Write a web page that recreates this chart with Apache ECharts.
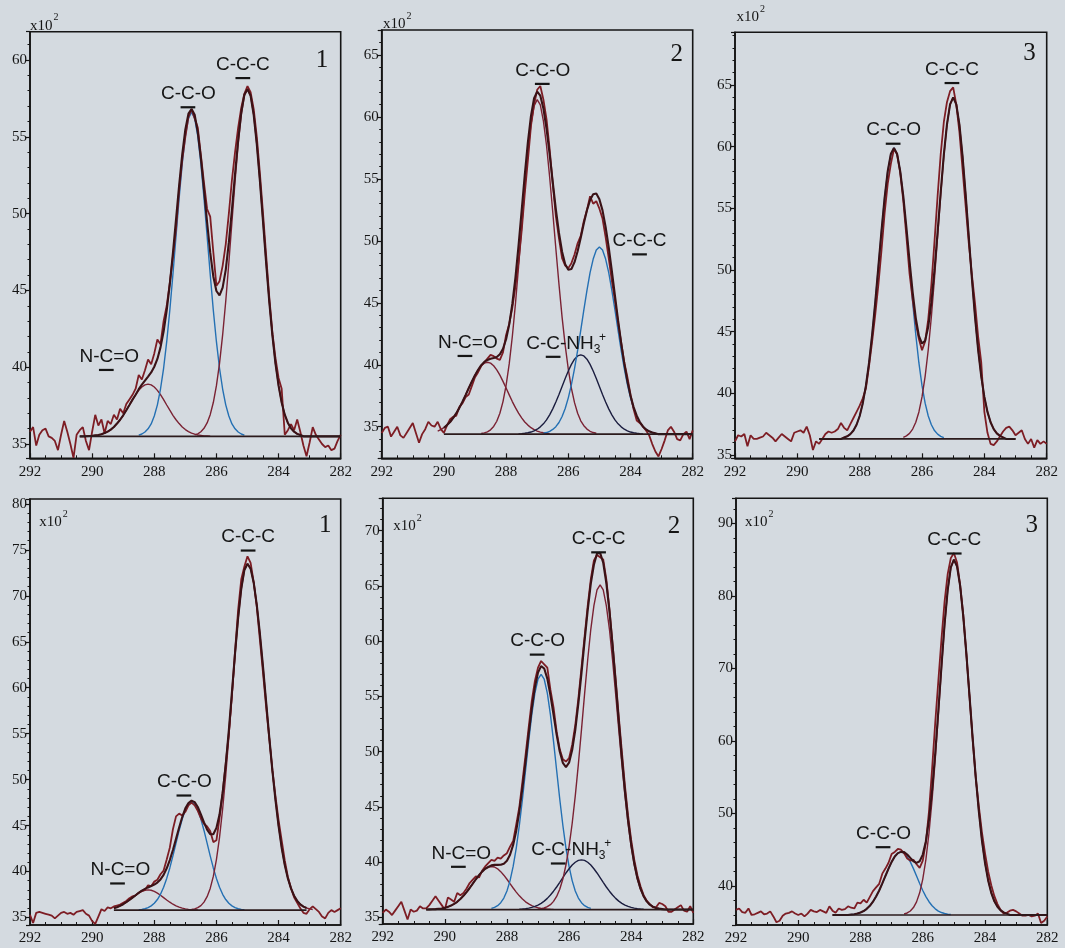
<!DOCTYPE html>
<html>
<head>
<meta charset="utf-8">
<title>C 1s spectra</title>
<script src="https://cdn.jsdelivr.net/npm/echarts@6/dist/echarts.min.js"></script>
<style>
  html, body { margin: 0; padding: 0; background: #d4dae0; }
  #chart { width: 1065px; height: 948px; }
</style>
</head>
<body>
<div id="chart"></div>
<script>
// ---- Energy grid: binding energy (eV), measured points every 0.1 eV from 292 down to 282 ----
const RAW_START = 292.0;
const STEP = 0.1;

// ---- Measured spectra (counts, x10^2) ----
const rawTL = [
  35.8,36.1,34.9,35.6,35.9,36.0,35.5,35.4,35.2,34.6,
  35.6,36.5,35.8,35.0,34.1,35.6,35.9,36.1,35.2,34.6,
  35.8,36.9,36.2,36.6,35.7,36.5,36.3,36.9,36.6,37.3,
  37.0,37.6,37.9,38.2,38.6,39.5,39.2,39.8,40.5,40.2,
  40.9,41.8,41.5,43.0,44.0,45.5,47.2,49.0,51.5,53.5,
  55.0,56.3,56.8,56.2,55.6,53.8,52.0,50.3,49.8,47.5,
  45.3,45.6,46.6,48.0,50.0,52.2,54.0,55.6,56.9,57.8,
  58.3,57.9,56.8,55.0,52.6,50.0,47.3,44.6,42.3,40.6,
  39.3,38.6,35.6,35.9,36.3,35.9,36.6,35.8,34.9,34.2,
  35.1,36.1,35.6,35.3,35.0,34.8,34.9,34.6,34.7,35.2,
  35.6
];
const rawTC = [
  34.5,34.9,35.0,34.2,34.6,35.0,34.3,34.1,34.5,34.9,
  35.3,34.5,33.7,34.4,34.8,35.4,35.1,35.0,35.4,34.8,
  34.5,35.1,35.6,35.8,35.9,36.6,36.9,37.4,37.6,38.3,
  39.0,39.4,39.9,40.2,40.5,40.8,40.7,40.5,40.4,41.0,
  42.4,43.3,44.6,46.3,48.3,50.8,53.8,56.5,59.3,61.0,
  62.2,62.5,61.4,59.8,57.4,54.6,52.0,50.2,48.6,48.0,
  47.8,48.2,48.9,49.8,50.4,51.6,52.5,53.6,53.0,53.2,
  52.6,51.8,50.3,48.6,46.8,45.2,43.4,41.8,40.2,39.0,
  37.6,36.4,35.5,35.3,35.0,34.7,34.3,33.6,33.0,32.6,
  33.2,33.9,34.7,35.0,34.6,34.0,33.9,34.4,34.6,34.0,
  34.7
];
const rawTR = [
  36.1,36.6,36.5,36.7,35.7,36.6,36.3,36.3,36.4,36.5,
  36.8,36.6,36.4,36.1,36.4,36.7,36.5,36.3,36.1,36.8,
  36.9,37.0,36.8,37.3,36.6,35.4,36.1,35.9,36.3,36.7,
  36.9,36.8,36.9,37.1,37.6,37.2,37.0,37.5,38.0,38.5,
  39.0,39.6,40.4,42.2,44.2,46.4,48.8,51.6,54.6,57.0,
  58.6,59.8,59.4,57.9,55.6,52.7,49.7,47.6,45.7,44.4,
  43.5,44.2,46.0,48.8,52.3,56.0,59.4,62.0,63.6,64.5,
  64.8,63.4,61.2,58.2,55.2,52.2,49.6,47.3,44.6,42.5,
  38.5,36.8,35.9,35.8,36.1,36.5,36.9,37.2,37.3,37.0,
  36.6,36.8,37.0,36.3,35.9,36.3,35.6,36.2,35.9,36.1,
  35.9
];
const rawBL = [
  35.3,34.4,35.5,35.6,35.5,35.4,35.3,35.2,34.9,35.2,
  35.5,35.6,35.4,35.5,35.3,35.6,35.7,35.8,35.4,35.2,
  34.6,34.3,35.1,35.9,35.7,36.1,36.0,36.2,36.3,36.4,
  36.6,36.8,37.1,37.3,37.4,37.7,37.9,38.0,38.5,38.4,
  38.9,39.1,39.7,40.1,41.3,42.6,44.6,46.0,46.3,46.1,
  46.5,47.2,47.5,47.2,46.6,45.8,45.2,44.9,44.4,43.2,
  43.4,45.8,48.6,51.8,55.0,59.2,64.0,68.5,71.8,73.2,
  74.3,73.6,71.5,68.8,65.2,61.6,57.9,54.5,51.1,48.2,
  45.6,43.4,41.2,39.4,38.2,37.2,36.6,36.0,35.5,35.4,
  35.9,36.2,35.9,35.6,35.1,34.9,35.5,35.8,35.6,35.8,
  36.0
];
const rawBC = [
  35.4,35.7,35.5,35.2,35.6,36.0,36.4,35.6,34.8,35.7,
  35.5,35.6,36.0,35.8,35.8,36.1,36.5,36.9,36.5,36.1,
  35.7,36.8,36.6,36.4,37.2,37.0,37.2,37.6,38.1,38.4,
  38.7,38.6,39.2,39.6,39.9,40.2,40.1,40.4,40.3,40.6,
  40.8,41.4,41.9,43.4,45.0,47.3,49.7,52.2,54.6,56.4,
  57.6,58.2,57.9,57.6,55.6,54.0,51.8,50.2,49.3,49.1,
  49.4,50.6,52.4,54.8,57.6,60.4,63.2,65.6,67.3,67.8,
  67.6,67.4,65.6,62.9,59.8,56.6,53.2,50.0,46.9,44.2,
  42.0,40.2,38.8,37.8,37.0,36.5,36.2,35.9,35.9,36.3,
  36.2,36.0,35.5,35.5,35.7,35.9,36.1,35.6,35.5,36.0,
  35.4
];
const rawBR = [
  36.7,36.9,36.4,36.3,36.9,36.0,36.1,36.3,36.5,36.1,
  36.2,36.5,35.8,35.0,35.2,35.9,36.2,36.3,36.5,36.2,
  36.0,36.2,35.8,36.2,36.7,36.5,36.4,36.7,36.5,36.3,
  37.2,36.6,36.3,36.9,36.7,36.8,37.2,37.0,36.9,37.7,
  37.6,38.1,37.7,38.5,39.3,39.8,40.3,41.7,42.4,43.2,
  44.4,44.7,45.1,45.0,44.5,43.8,43.5,43.6,43.0,42.5,
  43.5,46.0,50.3,56.2,62.5,68.3,74.0,79.2,83.0,85.2,
  85.9,84.6,81.5,77.4,72.0,66.2,60.3,55.0,51.0,47.4,
  44.5,42.0,40.1,38.6,37.5,36.7,36.2,36.3,36.6,36.7,
  36.5,36.2,35.9,35.9,36.0,35.8,35.9,36.2,34.9,35.2,
  35.8
];

// ---- Fitted components, sampled every 0.1 eV (descending energy) from the given start ----
const tlNcoStart = 290.2;
const tlNco = [35.51,35.52,35.53,35.56,35.59,35.64,35.71,35.81,35.94,36.11,36.33,36.58,36.87,37.20,37.54,37.89,38.21,38.49,38.71,38.85,38.90,38.85,38.71,38.49,38.21,37.89,37.54,37.20,36.87,36.58,36.33,36.11,35.94,35.81,35.71,35.64,35.59,35.56,35.53,35.52,35.51];
const tlCcoStart = 288.5;
const tlCco = [35.58,35.65,35.78,35.99,36.31,36.82,37.55,38.58,39.93,41.66,43.71,46.05,48.54,51.01,53.25,55.04,56.20,56.60,56.20,55.04,53.25,51.01,48.54,46.05,43.71,41.66,39.93,38.58,37.55,36.82,36.31,35.99,35.78,35.65,35.58];
const tlCccStart = 286.7;
const tlCcc = [35.59,35.66,35.80,36.02,36.37,36.91,37.70,38.80,40.25,42.10,44.29,46.80,49.47,52.11,54.51,56.43,57.67,58.10,57.67,56.43,54.51,52.11,49.47,46.80,44.29,42.10,40.25,38.80,37.70,36.91,36.37,36.02,35.80,35.66,35.59];

const tcNcoStart = 290.2;
const tcNco = [34.65,34.76,34.92,35.13,35.38,35.71,36.09,36.54,37.03,37.57,38.12,38.66,39.16,39.59,39.92,40.13,40.20,40.13,39.92,39.59,39.16,38.66,38.12,37.57,37.03,36.54,36.09,35.71,35.38,35.13,34.92,34.76,34.65,34.56,34.51,34.47,34.44];
const tcCcoStart = 288.8;
const tcCco = [34.45,34.50,34.59,34.75,35.02,35.44,36.09,37.03,38.34,40.07,42.28,44.90,47.90,51.09,54.25,57.11,59.40,60.89,61.40,60.97,59.67,57.70,55.16,52.33,49.36,46.50,43.85,41.56,39.64,38.10,36.94,36.09,35.48,35.08,34.81,34.63,34.53,34.47];
const tcNh3Start = 287.6;
const tcNh3 = [34.42,34.44,34.47,34.51,34.57,34.67,34.80,34.99,35.23,35.55,35.96,36.44,36.99,37.60,38.25,38.89,39.50,40.03,40.45,40.71,40.80,40.71,40.45,40.03,39.50,38.89,38.25,37.60,36.99,36.44,35.96,35.55,35.23,34.99,34.80,34.67,34.57,34.51,34.47,34.44,34.42];
const tcCccStart = 286.8;
const tcCcc = [34.47,34.53,34.63,34.78,35.00,35.34,35.82,36.47,37.33,38.40,39.69,41.16,42.77,44.43,46.01,47.43,48.53,49.26,49.50,49.26,48.53,47.43,46.01,44.43,42.77,41.16,39.69,38.40,37.33,36.47,35.82,35.34,35.00,34.78,34.63,34.53,34.47];

const trCcoStart = 288.5;
const trCco = [36.41,36.51,36.69,36.98,37.45,38.16,39.20,40.62,42.46,44.75,47.39,50.27,53.17,55.84,58.01,59.40,59.90,59.40,58.01,55.84,53.17,50.27,47.39,44.75,42.46,40.62,39.20,38.16,37.45,36.98,36.69,36.51,36.41];
const trCccStart = 286.6;
const trCcc = [36.43,36.55,36.75,37.10,37.65,38.49,39.71,41.37,43.53,46.22,49.32,52.70,56.11,59.24,61.78,63.42,64.00,63.42,61.78,59.24,56.11,52.70,49.32,46.22,43.53,41.37,39.71,38.49,37.65,37.10,36.75,36.55,36.43];

const blNcoStart = 289.3;
const blNco = [36.01,36.12,36.26,36.44,36.66,36.90,37.16,37.42,37.65,37.84,37.96,38.00,37.96,37.84,37.65,37.42,37.16,36.90,36.66,36.44,36.26,36.12,36.01,35.94,35.88,35.85,35.83,35.82];
const blCcoStart = 288.5;
const blCco = [35.84,35.88,35.95,36.07,36.26,36.54,36.95,37.52,38.28,39.25,40.39,41.70,43.09,44.47,45.72,46.73,47.38,47.60,47.38,46.73,45.72,44.47,43.09,41.70,40.39,39.25,38.28,37.52,36.95,36.54,36.26,36.07,35.95,35.88,35.84];
const blCccStart = 286.8;
const blCcc = [35.87,35.94,36.07,36.29,36.67,37.26,38.16,39.47,41.30,43.72,46.81,50.47,54.65,59.10,63.51,67.51,70.71,72.78,73.50,72.97,71.43,68.98,65.85,62.27,58.46,54.65,51.03,47.79,44.96,42.59,40.70,39.25,38.16,37.36,36.81,36.43,36.18,36.03,35.93,35.87];

const bcNcoStart = 290.5;
const bcNco = [35.71,35.72,35.74,35.77,35.80,35.86,35.94,36.06,36.21,36.40,36.65,36.94,37.28,37.65,38.04,38.44,38.81,39.13,39.39,39.55,39.60,39.55,39.39,39.13,38.81,38.44,38.04,37.65,37.28,36.94,36.65,36.40,36.21,36.06,35.94,35.86,35.80,35.77,35.74,35.72,35.71];
const bcCcoStart = 288.5;
const bcCco = [35.80,35.89,36.05,36.32,36.74,37.38,38.32,39.60,41.26,43.33,45.71,48.31,50.93,53.34,55.30,56.55,57.00,56.55,55.30,53.34,50.93,48.31,45.71,43.33,41.26,39.60,38.32,37.38,36.74,36.32,36.05,35.89,35.80];
const bcNh3Start = 287.6;
const bcNh3 = [35.73,35.75,35.78,35.83,35.89,35.98,36.10,36.26,36.46,36.71,37.01,37.36,37.74,38.16,38.59,39.01,39.39,39.73,39.98,40.15,40.20,40.15,39.98,39.73,39.39,39.01,38.59,38.16,37.74,37.36,37.01,36.71,36.46,36.26,36.10,35.98,35.89,35.83,35.78,35.75,35.73];
const bcCccStart = 287.0;
const bcCcc = [35.74,35.78,35.84,35.96,36.14,36.44,36.88,37.54,38.46,39.73,41.40,43.49,45.99,48.87,51.99,55.22,58.31,61.07,63.22,64.63,65.10,64.63,63.22,61.07,58.31,55.22,51.99,48.87,45.99,43.49,41.40,39.73,38.46,37.54,36.88,36.44,36.14,35.96,35.84,35.78,35.74];

const brCcoStart = 288.3;
const brCco = [36.06,36.11,36.20,36.34,36.54,36.85,37.27,37.83,38.54,39.38,40.35,41.38,42.39,43.32,44.06,44.53,44.70,44.53,44.06,43.32,42.39,41.38,40.35,39.38,38.54,37.83,37.27,36.85,36.54,36.34,36.20,36.11,36.06];
const brCccStart = 286.6;
const brCcc = [36.14,36.28,36.55,37.02,37.81,39.06,40.95,43.64,47.32,51.93,57.46,63.64,69.96,75.89,80.69,83.87,85.00,84.07,81.37,77.21,72.02,66.28,60.50,55.06,50.31,46.29,43.15,40.77,39.06,37.89,37.13,36.64,36.35,36.19];

// ---- Background lines: [level, from eV, to eV] ----
const baselineTL = [35.5, 290.4, 282.0];
const baselineTC = [34.4, 290.0, 282.0];
const baselineTR = [36.3, 289.3, 283.0];
const baselineBL = [35.8, 289.3, 283.1];
const baselineBC = [35.7, 290.6, 282.0];
const baselineBR = [36.0, 288.9, 282.0];

// ---- Peak assignments: [eV, counts, text] ----
const labelsTL = [[286.9, 57.8, 'C-C-O'], [285.15, 59.7, 'C-C-C'], [289.45, 40.7, 'N-C=O']];
const labelsTC = [[286.82, 63.76, 'C-C-O'], [283.71, 50.0, 'C-C-C'], [289.23, 41.8, 'N-C=O'], [286.07, 41.73, 'C-C-NH3+']];
const labelsTR = [[286.91, 61.33, 'C-C-O'], [285.04, 66.25, 'C-C-C']];
const labelsBL = [[284.98, 76.4, 'C-C-C'], [287.03, 49.74, 'C-C-O'], [289.09, 40.17, 'N-C=O']];
const labelsBC = [[285.05, 69.26, 'C-C-C'], [287.01, 60.0, 'C-C-O'], [289.47, 40.79, 'N-C=O'], [285.93, 41.09, 'C-C-NH3+']];
const labelsBR = [[284.99, 87.7, 'C-C-C'], [287.26, 47.21, 'C-C-O']];

// ---- Sample numbers ----
const tagTL = [282.6, 60.0, '1'];
const tagTC = [282.51, 65.08, '2'];
const tagTR = [282.55, 67.52, '3'];
const tagBL = [282.5, 77.71, '1'];
const tagBC = [282.62, 70.35, '2'];
const tagBR = [282.5, 89.77, '3'];

// ---- Styles ----
const INK = '#151515';
const RAW = '#7d1d24';
const RED = '#7a2233';
const BLUE = '#2470b3';
const NAVY = '#1b1d3f';
const ENV = '#3a1216';
const SANS = '"Liberation Sans", Arial, sans-serif';
const SERIF = '"Liberation Serif", "Times New Roman", serif';

const PANELS = [
  { grid: { left: 30, top: 31.7, width: 310.7, height: 426.6 }, yMin: 34.07, yMax: 61.84, yStep: 5,
    raw: rawTL, base: baselineTL, labels: labelsTL, tag: tagTL, unit: [30, 25.7],
    comps: [[tlNcoStart, tlNco, RED], [tlCcoStart, tlCco, BLUE], [tlCccStart, tlCcc, RED]] },
  { grid: { left: 381.7, top: 30, width: 311, height: 428.3 }, yMin: 32.45, yMax: 67.02, yStep: 5,
    raw: rawTC, base: baselineTC, labels: labelsTC, tag: tagTC, unit: [383, 24.5],
    comps: [[tcNcoStart, tcNco, RED], [tcCcoStart, tcCco, RED], [tcNh3Start, tcNh3, NAVY], [tcCccStart, tcCcc, BLUE]] },
  { grid: { left: 735, top: 32.3, width: 311.7, height: 426 }, yMin: 34.73, yMax: 69.27, yStep: 5,
    raw: rawTR, base: baselineTR, labels: labelsTR, tag: tagTR, unit: [736.5, 17],
    comps: [[trCcoStart, trCco, BLUE], [trCccStart, trCcc, RED]] },
  { grid: { left: 30, top: 499, width: 310.7, height: 426 }, yMin: 34.18, yMax: 80.54, yStep: 5,
    raw: rawBL, base: baselineBL, labels: labelsBL, tag: tagBL, unit: [39.3, 522],
    comps: [[blNcoStart, blNco, RED], [blCcoStart, blCco, BLUE], [blCccStart, blCcc, RED]] },
  { grid: { left: 382.7, top: 498.3, width: 310.6, height: 425.7 }, yMin: 34.39, yMax: 72.93, yStep: 5,
    raw: rawBC, base: baselineBC, labels: labelsBC, tag: tagBC, unit: [393.3, 526],
    comps: [[bcNcoStart, bcNco, RED], [bcCcoStart, bcCco, BLUE], [bcNh3Start, bcNh3, NAVY], [bcCccStart, bcCcc, RED]] },
  { grid: { left: 736, top: 498.3, width: 311.3, height: 426.7 }, yMin: 34.62, yMax: 93.45, yStep: 10,
    raw: rawBR, base: baselineBR, labels: labelsBR, tag: tagBR, unit: [745, 522.5],
    comps: [[brCcoStart, brCco, BLUE], [brCccStart, brCcc, RED]] }
];

// ---- Helpers ----
const energyAt = (start, i) => Math.round((start - i * STEP) * 10) / 10;
const toPairs = (start, values) => values.map((v, i) => [energyAt(start, i), v]);

// Sum of all fitted components above the background, on the 0.1 eV grid
function envelope(base, comps) {
  const [level, from, to] = base;
  const n = Math.round((from - to) / STEP);
  const pts = [];
  for (let i = 0; i <= n; i++) {
    const e = energyAt(from, i);
    let y = level;
    comps.forEach(([start, values]) => {
      const k = Math.round((start - e) / STEP);
      if (k >= 0 && k < values.length) y += values[k] - level;
    });
    pts.push([e, Math.round(y * 100) / 100]);
  }
  return pts;
}

const measureCtx = document.createElement('canvas').getContext('2d');
function textWidth(str, font) { measureCtx.font = font; return measureCtx.measureText(str).width; }

const LABEL_SIZE = 19;
const LABEL_FONT = LABEL_SIZE + 'px ' + SANS;
const SMALL_FONT = '12px ' + SANS;

// Assignment label with the carbon of interest underlined
function makeLabelRenderer(list) {
  return function (params, api) {
    const text = list[params.dataIndex][2];
    const p = api.coord([api.value(0), api.value(1)]);
    let main = text, sub = '', sup = '';
    const m = text.match(/^(.*)NH3\+$/);
    if (m) { main = m[1] + 'NH'; sub = '3'; sup = '+'; }
    const wMain = textWidth(main, LABEL_FONT);
    const wSub = sub ? textWidth(sub, SMALL_FONT) : 0;
    const wSup = sup ? textWidth(sup, SMALL_FONT) : 0;
    const total = wMain + wSub + wSup * 0.8;
    const left = p[0] - total / 2;
    const ux = left + textWidth(main.slice(0, 2), LABEL_FONT);
    const uw = textWidth(main.charAt(2), LABEL_FONT);
    const uy = p[1] + 13.5;
    const children = [
      { type: 'text', x: left, y: p[1], style: { text: main, font: LABEL_FONT, fill: INK, align: 'left', verticalAlign: 'middle' } },
      { type: 'line', shape: { x1: ux - 0.5, y1: uy, x2: ux + uw + 0.5, y2: uy }, style: { stroke: INK, lineWidth: 2.2 } }
    ];
    if (sub) {
      children.push({ type: 'text', x: left + wMain, y: p[1] + 6, style: { text: sub, font: SMALL_FONT, fill: INK, align: 'left', verticalAlign: 'middle' } });
      children.push({ type: 'text', x: left + wMain + wSub - wSup * 0.2, y: p[1] - 6, style: { text: sup, font: SMALL_FONT, fill: INK, align: 'left', verticalAlign: 'middle' } });
    }
    return { type: 'group', children: children };
  };
}

function makeTagRenderer(tag) {
  return function (params, api) {
    const p = api.coord([api.value(0), api.value(1)]);
    return { type: 'text', x: p[0], y: p[1], style: { text: tag[2], font: '25px ' + SERIF, fill: INK, align: 'center', verticalAlign: 'middle' } };
  };
}

// ---- Build option ----
const grids = [], xAxes = [], yAxes = [], series = [], graphics = [];

PANELS.forEach((P, i) => {
  grids.push(Object.assign({ show: true, borderColor: INK, borderWidth: 1.6, backgroundColor: 'transparent', containLabel: false }, P.grid));

  xAxes.push({
    type: 'value', gridIndex: i, min: 282, max: 292, interval: 2, inverse: true,
    axisLine: { show: true, lineStyle: { color: INK, width: 1.6 } },
    axisTick: { show: true, inside: true, length: 5, lineStyle: { color: INK, width: 1.2 } },
    minorTick: { show: true, splitNumber: 4, length: 3, lineStyle: { color: INK, width: 1 } },
    axisLabel: { fontFamily: SERIF, fontSize: 15, color: INK, margin: 6 },
    splitLine: { show: false }, minorSplitLine: { show: false }
  });

  yAxes.push({
    type: 'value', gridIndex: i, min: P.yMin, max: P.yMax,
    minInterval: P.yStep, maxInterval: P.yStep, splitNumber: 6,
    axisLine: { show: true, lineStyle: { color: INK, width: 1.6 } },
    axisTick: { show: true, inside: false, length: 4, lineStyle: { color: INK, width: 1.2 } },
    minorTick: { show: true, splitNumber: 5, length: 2.5, lineStyle: { color: INK, width: 1 } },
    axisLabel: { fontFamily: SERIF, fontSize: 15, color: INK, margin: 3, showMinLabel: false, showMaxLabel: false },
    splitLine: { show: false }, minorSplitLine: { show: false }
  });

  const common = { type: 'line', xAxisIndex: i, yAxisIndex: i, showSymbol: false, symbol: 'none', animation: false, silent: true };

  P.comps.forEach(([start, values, color]) => {
    series.push(Object.assign({}, common, { data: toPairs(start, values), z: 2, lineStyle: { color: color, width: 1.4 } }));
  });

  series.push(Object.assign({}, common, { data: toPairs(RAW_START, P.raw), z: 3, lineStyle: { color: RAW, width: 1.8 } }));

  series.push(Object.assign({}, common, { data: envelope(P.base, P.comps), z: 4, lineStyle: { color: ENV, width: 2.1 } }));

  const [level, from, to] = P.base;
  series.push(Object.assign({}, common, { data: [[from, level], [to, level]], z: 4, lineStyle: { color: '#2b1a1c', width: 1.7 } }));

  series.push({
    type: 'custom', xAxisIndex: i, yAxisIndex: i, z: 6, silent: true, animation: false, clip: false,
    data: P.labels.map(d => [d[0], d[1]]),
    encode: { x: 0, y: 1 },
    renderItem: makeLabelRenderer(P.labels)
  });

  series.push({
    type: 'custom', xAxisIndex: i, yAxisIndex: i, z: 6, silent: true, animation: false, clip: false,
    data: [[P.tag[0], P.tag[1]]],
    encode: { x: 0, y: 1 },
    renderItem: makeTagRenderer(P.tag)
  });

  // intensity unit
  graphics.push({ type: 'text', x: P.unit[0], y: P.unit[1], z: 10,
    style: { text: 'x10', font: '15px ' + SERIF, fill: INK, align: 'left', verticalAlign: 'middle' } });
  graphics.push({ type: 'text', x: P.unit[0] + 23.5, y: P.unit[1] - 8, z: 10,
    style: { text: '2', font: '10px ' + SERIF, fill: INK, align: 'left', verticalAlign: 'middle' } });
});

const chart = echarts.init(document.getElementById('chart'), null, { renderer: 'canvas', width: 1065, height: 948 });
chart.setOption({
  backgroundColor: '#d4dae0',
  animation: false,
  grid: grids,
  xAxis: xAxes,
  yAxis: yAxes,
  series: series,
  graphic: graphics
});
</script>
</body>
</html>
